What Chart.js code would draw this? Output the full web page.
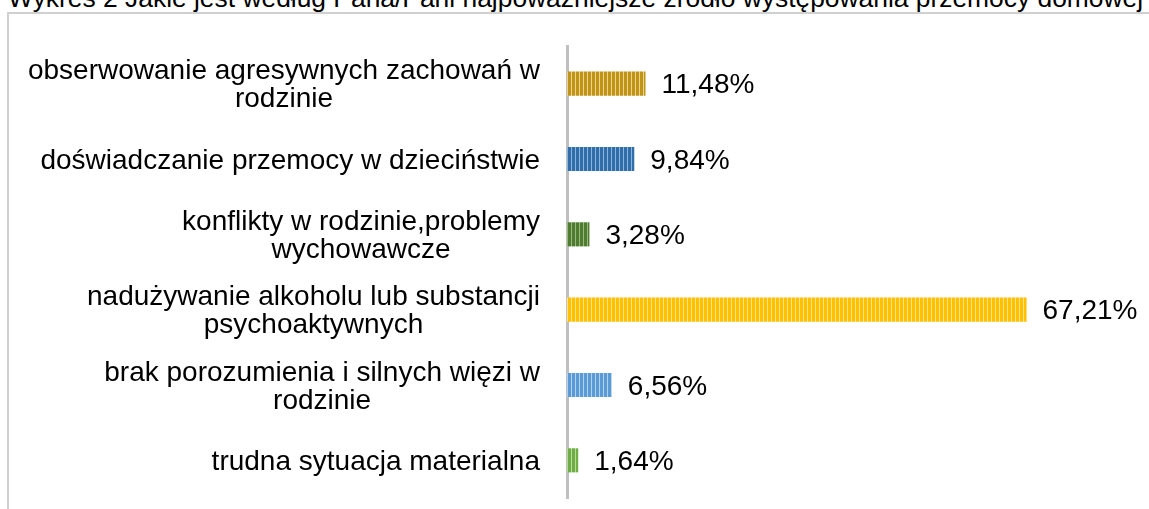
<!DOCTYPE html>
<html>
<head>
<meta charset="utf-8">
<script src="https://cdn.jsdelivr.net/npm/chart.js@4"></script>
<style>
  html, body { margin: 0; padding: 0; background: #fff; overflow: hidden; }
  #wrap { position: relative; width: 1149px; height: 509px; overflow: hidden; }
  #frame { position: absolute; left: 7px; top: 12px; width: 1300px; height: 600px;
           border-left: 2px solid #d0d0d0; border-top: 2px solid #d0d0d0; }
  #title { position: absolute; left: 8px; top: -16px; white-space: nowrap;
           font: 26.4px "Liberation Sans", Arial, sans-serif; line-height: 28px; color: #000; }
  #box { position: absolute; left: 0; top: 0; width: 1149px; height: 509px; }
</style>
</head>
<body>
<div id="wrap">
  <div id="frame"></div>
  <div id="title">Wykres 2 Jakie jest według Pana/Pani najpoważniejsze źródło występowania przemocy domowej</div>
  <div id="box"><canvas id="barChart"></canvas></div>
</div>
<script>
const labels = [
  ["obserwowanie agresywnych zachowań w", "rodzinie"],
  ["doświadczanie przemocy w dzieciństwie"],
  ["konflikty w rodzinie,problemy", "wychowawcze"],
  ["nadużywanie alkoholu lub substancji", "psychoaktywnych"],
  ["brak porozumienia i silnych więzi w", "rodzinie"],
  ["trudna sytuacja materialna"]
];
const values = [11.48, 9.84, 3.28, 67.21, 6.56, 1.64];
const baseColors = ["#bf9418", "#2f6ea8", "#4f7c2e", "#ffc000", "#5b9bd5", "#70ad47"];
const stripeColors = ["#ead38a", "#8db4dc", "#97b880", "#ffe28a", "#b3d2ef", "#b5dc98"];

const FONT = '28px "Liberation Sans", Arial, sans-serif';

function stripes(base, light) {
  const c = document.createElement("canvas");
  c.width = 4;
  c.height = 4;
  const g = c.getContext("2d");
  g.fillStyle = base;
  g.fillRect(0, 0, 4, 4);
  g.fillStyle = light;
  g.fillRect(3, 0, 1, 4);
  return g.createPattern(c, "repeat");
}

const textPlugin = {
  id: "textPlugin",
  afterDraw(chart) {
    const ctx = chart.ctx;
    const y = chart.scales.y;
    const x = chart.scales.x;
    const lineH = 28;
    ctx.save();
    ctx.font = FONT;
    ctx.fillStyle = "#000";
    ctx.textBaseline = "middle";
    labels.forEach((lines, i) => {
      const cy = y.getPixelForValue(i) + 2;
      const maxW = Math.max(...lines.map((l) => ctx.measureText(l).width));
      const cx = 540 - maxW / 2;
      const top = cy - ((lines.length - 1) * lineH) / 2;
      ctx.textAlign = "center";
      lines.forEach((l, k) => ctx.fillText(l, cx, top + k * lineH));
      ctx.textAlign = "left";
      const txt = values[i].toFixed(2).replace(".", ",") + "%";
      ctx.fillText(txt, x.getPixelForValue(values[i]) + 16, cy);
    });
    ctx.restore();
  },
};

const ctx = document.getElementById("barChart");
new Chart(ctx, {
  type: "bar",
  data: {
    labels: labels,
    datasets: [
      {
        data: values,
        backgroundColor: values.map((v, i) => stripes(baseColors[i], stripeColors[i])),
        borderWidth: 0,
        barPercentage: 0.32,
        categoryPercentage: 1,
      },
    ],
  },
  options: {
    indexAxis: "y",
    responsive: true,
    maintainAspectRatio: false,
    animation: false,
    layout: { padding: { left: 567, right: 35, top: 46, bottom: 11 } },
    plugins: {
      legend: { display: false },
      tooltip: { enabled: false },
    },
    scales: {
      x: {
        display: false,
        min: 0,
        max: 80,
      },
      y: {
        grid: { display: false, drawTicks: false },
        border: { display: true, color: "#bfbfbf", width: 3 },
        ticks: { display: false },
        afterFit(scale) {
          scale.width = 0;
        },
      },
    },
  },
  plugins: [textPlugin],
});
</script>
</body>
</html>
